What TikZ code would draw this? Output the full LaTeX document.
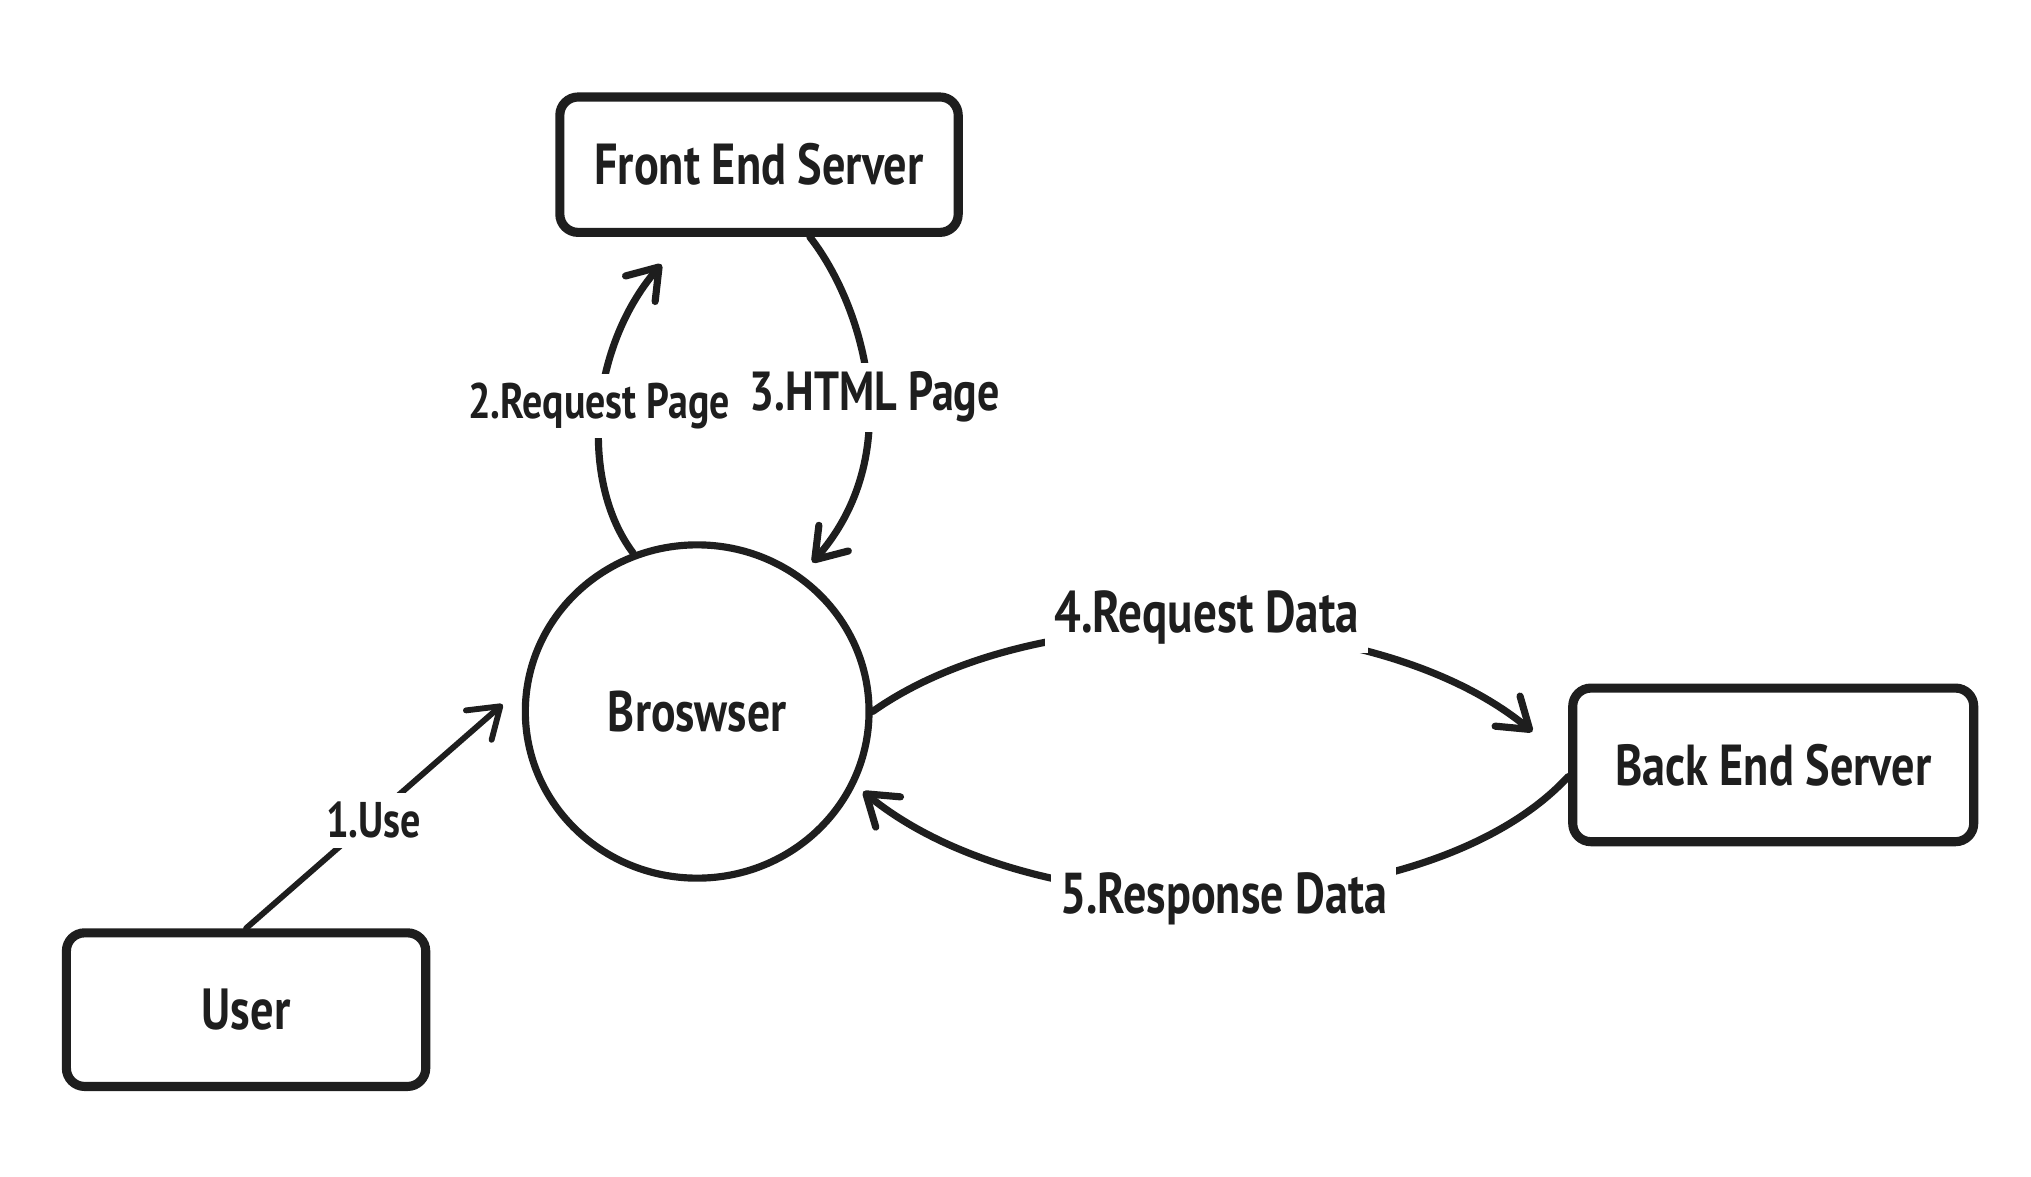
\documentclass[tikz,border=0pt]{standalone}
\usepackage{fontspec}
\setmainfont{PT Sans}[FakeStretch=0.8]
\usetikzlibrary{arrows.meta,shapes.geometric}
\definecolor{ink}{HTML}{1E1E1E}
\newcommand{\fitw}[2]{\resizebox{#1pt}{!}{\bfseries #2}}
\begin{document}
\begin{tikzpicture}[x=1pt,y=-1pt,
  box/.style={draw=ink,line width=7pt,rounded corners=14pt,fill=white,inner sep=0pt,text=ink},
  conn/.style={draw=ink,line width=5.5pt,line cap=round,-{Straight Barb[length=22pt,width=30pt,round]}},
  lbl/.style={fill=white,inner sep=7pt,text=ink}]
\useasboundingbox (0,0) rectangle (1560,904);
% nodes
\node[box,minimum width=306pt,minimum height=104pt] (fe) at (583,126.5) {\fitw{253}{Front End Server}};
\node[box,minimum width=276pt,minimum height=118pt] (user) at (189,775.5) {\fitw{68}{User}};
\node[box,minimum width=308pt,minimum height=118pt] (be) at (1362,587.5) {\fitw{243}{Back End Server}};
\node[draw=ink,line width=5.5pt,ellipse,minimum width=264pt,minimum height=256pt,inner sep=0pt,text=ink] (br) at (535.5,546.5) {\fitw{137}{Broswser}};
% arrow tips
\coordinate (t1) at (386,541);
\coordinate (t2) at (508,203);
\coordinate (t3) at (624,432);
\coordinate (t4) at (1177,562);
\coordinate (t5) at (663,608);
% connectors
\draw[conn,line width=4.5pt] (user.north) -- (t1);
\draw[conn] (br.112) .. controls (445,370) and (452,268) .. (t2);
\draw[conn] ([xshift=39pt]fe.south) .. controls (660,230) and (700,345) .. (t3);
\draw[conn] (br.east) .. controls (800,455) and (1060,465) .. (t4);
\draw[conn] ([yshift=-9pt]be.west) .. controls (1100,710) and (800,720) .. (t5);
% labels
\node[lbl] (l1) at (287,630) {\fitw{73}{1.Use}};
\node[lbl] (l2) at (460,312) {\fitw{201}{2.Request Page}};
\node[lbl] (l3) at (672,305) {\fitw{192}{3.HTML Page}};
\node[lbl] (l4) at (927,474) {\fitw{234}{4.Request Data}};
\node[lbl] (l5) at (940,690) {\fitw{251}{5.Response Data}};
\end{tikzpicture}
\end{document}
